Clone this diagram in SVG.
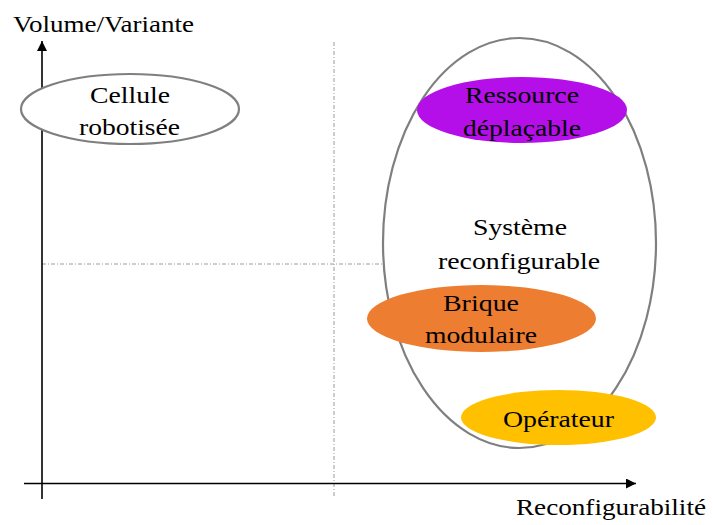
<svg xmlns="http://www.w3.org/2000/svg" width="713" height="525" viewBox="0 0 713 525">
<defs>
<style>
text{font-family:"Liberation Serif","Times New Roman",serif;font-size:24px;fill:#000}
.c{text-anchor:middle}
.axis{stroke:#000;stroke-width:1.6;fill:none}
.guide{stroke:#9a9a9a;stroke-width:1;stroke-dasharray:4 2 1 2;fill:none}
.outline{fill:#fff;stroke:#7f7f7f;stroke-width:2.2}
</style>
<marker id="arr" viewBox="0 0 10 10" refX="10" refY="5" markerWidth="10" markerHeight="10" markerUnits="userSpaceOnUse" orient="auto">
<path d="M0,0 L10,5 L0,10 z" fill="#000"/>
</marker>
</defs>
<rect width="713" height="525" fill="#fff"/>
<g id="connectors">
<line class="guide" x1="334" y1="42" x2="334" y2="498"/>
<line class="guide" x1="42" y1="264" x2="384" y2="264"/>
<line class="axis" x1="42" y1="499" x2="42" y2="41" marker-end="url(#arr)"/>
<line class="axis" x1="24" y1="483.5" x2="636" y2="483.5" marker-end="url(#arr)"/>
</g>
<g id="axis-labels">
<text x="13" y="32" textLength="181" lengthAdjust="spacingAndGlyphs">Volume/Variante</text>
<text x="516" y="515" textLength="190" lengthAdjust="spacingAndGlyphs">Reconfigurabilité</text>
</g>
<g id="systeme">
<ellipse class="outline" cx="519.5" cy="243" rx="136.5" ry="205"/>
<text class="c" x="520" y="235" textLength="94" lengthAdjust="spacingAndGlyphs">Système</text>
<text class="c" x="519" y="269" textLength="162" lengthAdjust="spacingAndGlyphs">reconfigurable</text>
</g>
<g id="cellule">
<ellipse class="outline" cx="130" cy="109" rx="109" ry="35"/>
<text class="c" x="130" y="103" textLength="80" lengthAdjust="spacingAndGlyphs">Cellule</text>
<text class="c" x="129.5" y="135" textLength="101" lengthAdjust="spacingAndGlyphs">robotisée</text>
</g>
<g id="ressource">
<ellipse cx="522" cy="110" rx="105" ry="33" fill="#B40FE8"/>
<text class="c" x="522" y="103" textLength="114" lengthAdjust="spacingAndGlyphs">Ressource</text>
<text class="c" x="522" y="136" textLength="118" lengthAdjust="spacingAndGlyphs">déplaçable</text>
</g>
<g id="brique">
<ellipse cx="481.5" cy="318.5" rx="114.5" ry="33.5" fill="#ED7D31"/>
<text class="c" x="481" y="311" textLength="76" lengthAdjust="spacingAndGlyphs">Brique</text>
<text class="c" x="481" y="343" textLength="112" lengthAdjust="spacingAndGlyphs">modulaire</text>
</g>
<g id="operateur">
<ellipse cx="558.5" cy="417.5" rx="97.5" ry="27.5" fill="#FFC000"/>
<text class="c" x="558.5" y="427" textLength="111" lengthAdjust="spacingAndGlyphs">Opérateur</text>
</g>
</svg>
